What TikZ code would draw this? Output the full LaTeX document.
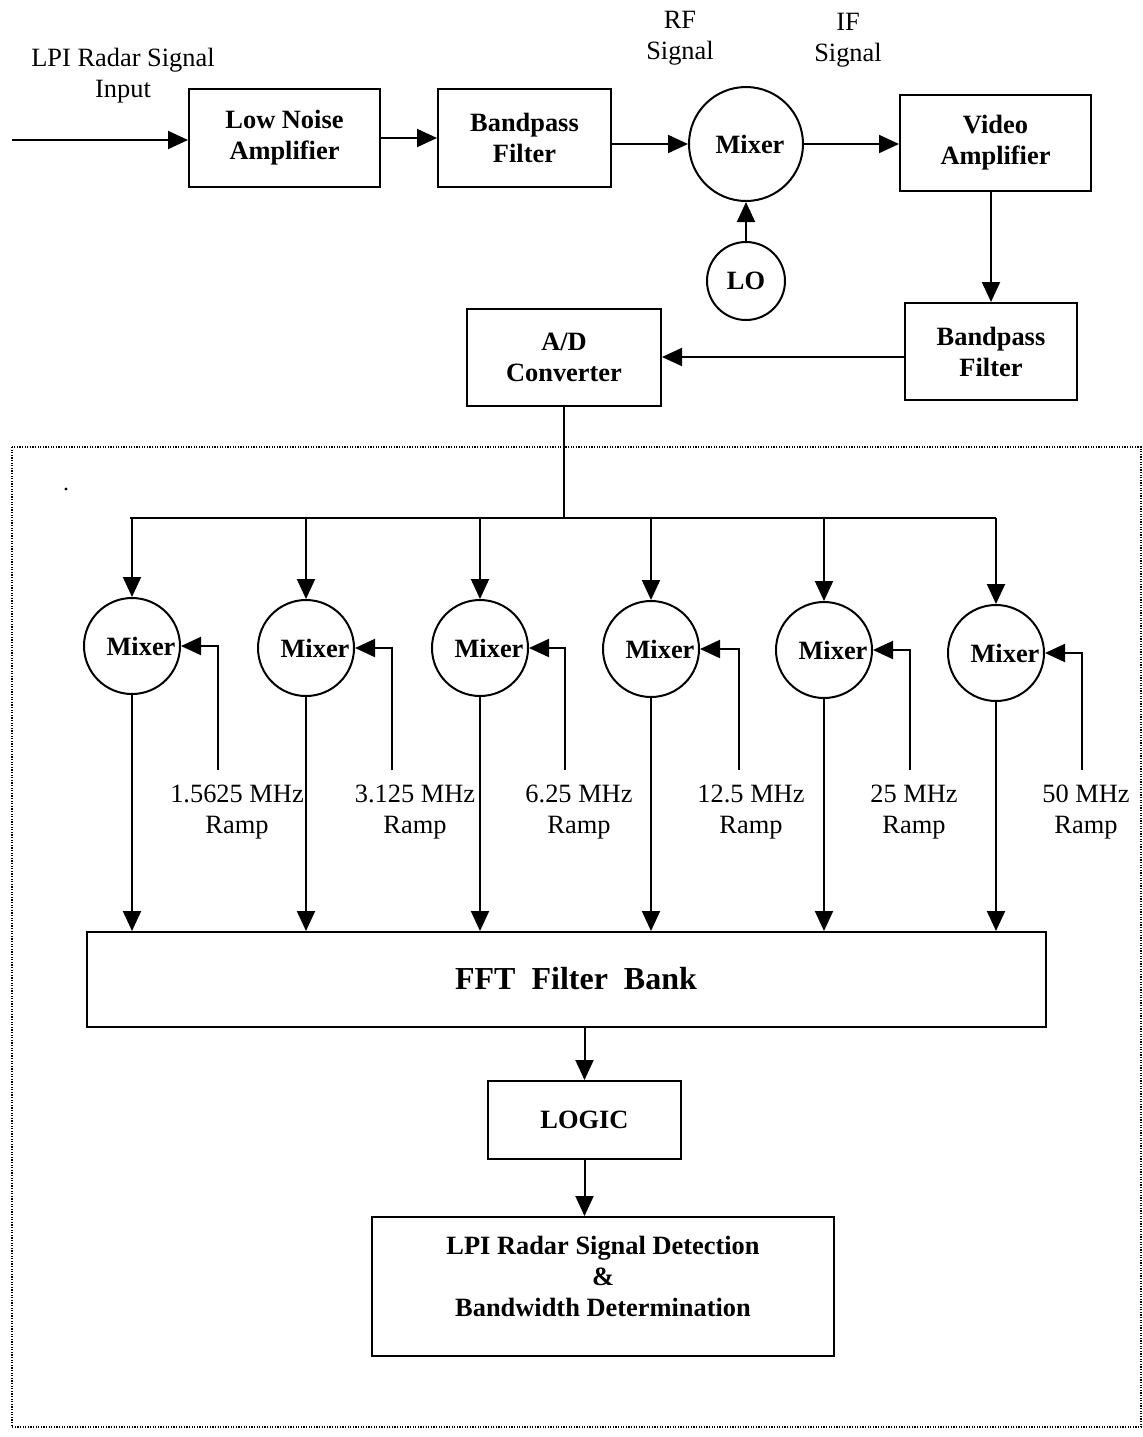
\documentclass[tikz,border=0pt]{standalone}
\usepackage{fontspec}
\setmainfont{Liberation Serif}
\usetikzlibrary{arrows.meta}
\begin{document}
\begin{tikzpicture}[x=0.5pt,y=-0.5pt,
  every node/.style={font=\fontsize{13.2}{15.5}\selectfont},
  box/.style={draw,line width=1pt,inner sep=0pt,align=center,font=\fontsize{13.2}{15.5}\selectfont\bfseries},
  circ/.style={draw,circle,line width=1pt,inner sep=0pt},
  btxt/.style={inner sep=0pt,align=center,font=\fontsize{13.2}{15.5}\selectfont\bfseries},
  rtxt/.style={inner sep=0pt,align=center,font=\fontsize{13.2}{15.5}\selectfont},
  arr/.style={line width=1pt,-{Triangle[length=10pt,width=9pt]}},
  ln/.style={line width=1pt}]
\useasboundingbox (0,0) rectangle (1143,1437);
% dotted frame
\draw[line width=0.6pt,dash pattern=on 0.6pt off 0.7pt] (12,447) rectangle (1141,1427);
\fill (66,489) circle (0.8pt);
% top chain
\node[rtxt] (inlbl) at (123,76) {LPI Radar Signal\\Input};
\node[box,minimum width=95.5pt,minimum height=49pt] (lna) at (284.5,138) {Low Noise\\Amplifier};
\node[box,minimum width=86.5pt,minimum height=49pt] (bpf1) at (524.5,138) {Bandpass\\Filter};
\node[circ,minimum size=57pt] (mix) at (746,144) {};
\node[btxt,xshift=2pt] (mixt) at (mix) {Mixer};
\node[rtxt] (rf) at (680,38) {RF\\Signal};
\node[rtxt] (if) at (848,40) {IF\\Signal};
\node[box,minimum width=95.5pt,minimum height=48pt] (vid) at (995.5,143) {Video\\Amplifier};
\node[circ,minimum size=39pt] (lo) at (746,281) {};
\node[btxt] (lot) at (lo) {LO};
\node[box,minimum width=86pt,minimum height=48.5pt] (bpf2) at (991,351.5) {Bandpass\\Filter};
\node[box,minimum width=97pt,minimum height=48.5pt] (ad) at (564,357) {A/D\\Converter};
\coordinate (in) at (12,140);
\draw[arr] (in) -- (lna.west |- in);
\draw[arr] (lna.east) -- (bpf1.west);
\draw[arr] (bpf1.east |- mix.west) -- (mix.west);
\draw[arr] (mix.east) -- (vid.west |- mix.east);
\draw[arr] (lo.north) -- (mix.south);
\draw[arr] (bpf2.north |- vid.south) -- (bpf2.north);
\draw[arr] (bpf2.west |- ad.east) -- (ad.east);
% bus
\coordinate (busL) at (130,518);
\coordinate (busR) at (996,518);
\draw[ln] (ad.south) -- (ad.south |- busL);
\draw[ln] (busL) -- (busR);
% FFT
\node[box,minimum width=479.5pt,minimum height=47.5pt] (fft) at (566.5,979.5) {};
\node[btxt,font=\fontsize{16}{18}\selectfont\bfseries] (fftt) at (576,979) {FFT\ \ Filter\ \ Bank};
% mixers row
\foreach \i/\cx/\cy/\rx in {1/132/646/218,2/306/648/392,3/480/648/565,4/651/649/739,5/824/650/910,6/996/653/1082}{
  \node[circ,minimum size=48pt] (m\i) at (\cx,\cy) {};
  \node[btxt,xshift=4.5pt] (m\i t) at (m\i) {Mixer};
  \coordinate (r\i) at (\rx,770);
  \draw[arr] (m\i.north |- busL) -- (m\i.north);
  \draw[arr] (r\i) |- (m\i.east);
  \draw[arr] (m\i.south) -- (m\i.south |- fft.north);
}
\node[rtxt] (l1) at (237,812) {1.5625 MHz\\Ramp};
\node[rtxt] (l2) at (415,812) {3.125 MHz\\Ramp};
\node[rtxt] (l3) at (579,812) {6.25 MHz\\Ramp};
\node[rtxt] (l4) at (751,812) {12.5 MHz\\Ramp};
\node[rtxt] (l5) at (914,812) {25 MHz\\Ramp};
\node[rtxt] (l6) at (1086,812) {50 MHz\\Ramp};
% logic and detection
\node[box,minimum width=96.5pt,minimum height=39pt] (logic) at (584.5,1120) {LOGIC};
\node[box,minimum width=231pt,minimum height=69.5pt] (det) at (603,1286.5) {};
\node[btxt] (dett) at (603,1276) {LPI Radar Signal Detection\\\&\\Bandwidth Determination};
\draw[arr] (logic.north |- fft.south) -- (logic.north);
\draw[arr] (logic.south) -- (logic.south |- det.north);
\end{tikzpicture}
\end{document}
